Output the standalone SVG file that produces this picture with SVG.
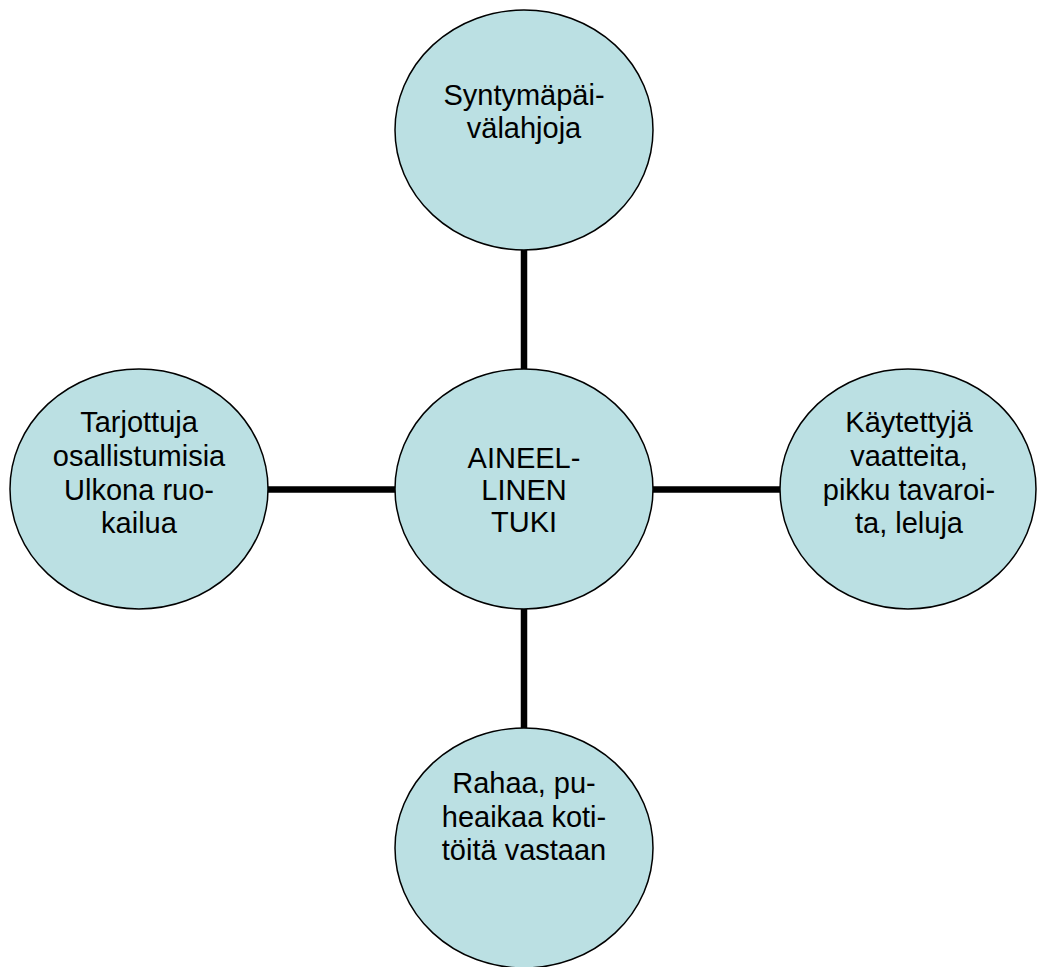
<svg xmlns="http://www.w3.org/2000/svg" width="1037" height="967" viewBox="0 0 1037 967">
<style>
.node ellipse{fill:#BBE0E3;stroke:#000;stroke-width:1.5}
.node text{font-family:"Liberation Sans",Arial,sans-serif;font-size:29px;fill:#000;text-anchor:middle}
.conn line{stroke:#000;stroke-width:6.5}
</style>
<rect width="1037" height="967" fill="#fff"/>
<g class="conn" id="connectors">
<line x1="524" y1="249" x2="524" y2="369"/>
<line x1="524" y1="609" x2="524" y2="728"/>
<line x1="268" y1="489.5" x2="396" y2="489.5"/>
<line x1="652" y1="489.5" x2="780" y2="489.5"/>
</g>
<g class="node" id="top">
<ellipse cx="524" cy="130" rx="129" ry="120"/>
<text x="524" y="105">Syntymäpäi-</text>
<text x="524" y="138">välahjoja</text>
</g>
<g class="node" id="center">
<ellipse cx="524" cy="489" rx="129" ry="120"/>
<text x="524" y="468">AINEEL-</text>
<text x="524" y="500">LINEN</text>
<text x="524" y="532">TUKI</text>
</g>
<g class="node" id="left">
<ellipse cx="139" cy="489" rx="129" ry="120"/>
<text x="139" y="432">Tarjottuja</text>
<text x="139" y="466">osallistumisia</text>
<text x="139" y="500">Ulkona ruo-</text>
<text x="139" y="533">kailua</text>
</g>
<g class="node" id="right">
<ellipse cx="908" cy="489" rx="128" ry="120"/>
<text x="909" y="432">Käytettyjä</text>
<text x="909" y="466">vaatteita,</text>
<text x="909" y="500">pikku tavaroi-</text>
<text x="909" y="533">ta, leluja</text>
</g>
<g class="node" id="bottom">
<ellipse cx="524" cy="848" rx="129" ry="120"/>
<text x="524" y="793">Rahaa, pu-</text>
<text x="524" y="827">heaikaa koti-</text>
<text x="524" y="860">töitä vastaan</text>
</g>
</svg>
